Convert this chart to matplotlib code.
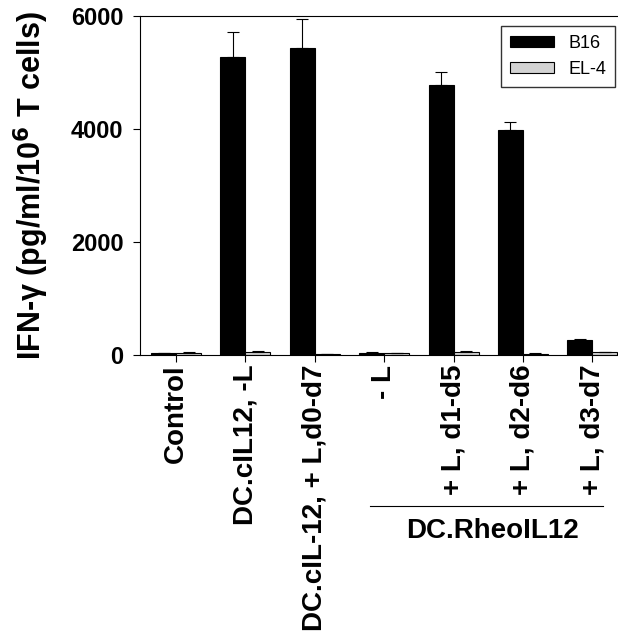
import numpy as np
import matplotlib.pyplot as plt

plt.rcParams['font.family'] = ['Liberation Sans', 'DejaVu Sans']

categories = ["Control", "DC.cIL12, -L", "DC.cIL-12, + L,d0-d7",
              "- L", "+ L, d1-d5", "+ L, d2-d6", "+ L, d3-d7"]
b16 = [30, 5270, 5430, 40, 4770, 3980, 265]
b16_err = [10, 450, 520, 10, 240, 150, 15]
el4 = [40, 60, 20, 30, 50, 25, 45]
el4_err = [8, 10, 5, 6, 15, 5, 10]

fig = plt.figure(figsize=(6.18, 6.35), dpi=100)
ax = fig.add_axes([0.2265, 0.441, 0.7735, 0.534])

x = np.arange(len(categories))
w = 0.36
ax.bar(x - w / 2, b16, w, color='black', edgecolor='black', linewidth=0.8,
       yerr=[np.zeros(len(b16)), b16_err], error_kw=dict(ecolor='black', elinewidth=0.8, capsize=4, capthick=0.8),
       label='B16')
ax.bar(x + w / 2, el4, w, color='#d3d3d3', edgecolor='black', linewidth=0.8,
       yerr=[np.zeros(len(el4)), el4_err], error_kw=dict(ecolor='black', elinewidth=0.8, capsize=4, capthick=0.8),
       label='EL-4')

ax.set_xlim(-0.52, 6.37)
ax.set_ylim(0, 6000)
ax.set_yticks([0, 2000, 4000, 6000])
ax.set_xticks(x)
ax.set_xticklabels(categories, rotation=90, fontweight='bold', fontsize=20)
for lbl in ax.get_yticklabels():
    lbl.set_fontweight('bold')
    lbl.set_fontsize(17)
ax.tick_params(axis='both', direction='out', length=5, width=0.8)
ax.tick_params(axis='x', pad=2)
ax.tick_params(axis='y', pad=7)
ax.spines['right'].set_visible(False)
for s in ['top', 'left', 'bottom']:
    ax.spines[s].set_linewidth(0.8)

ax.set_ylabel('IFN-\u03b3 (pg/ml/10$\\mathbf{^6}$ T cells)', fontsize=22, fontweight='bold', labelpad=14)

ax.legend(loc='upper right', bbox_to_anchor=(0.994, 0.97), borderaxespad=0, fontsize=13, frameon=True,
          fancybox=False, edgecolor='black', handlelength=2.4, handleheight=0.6, borderpad=0.5)

# group bracket for the RheoIL12 conditions
fig.add_artist(plt.Line2D([370 / 618, 603 / 618], [1 - 506 / 635, 1 - 506 / 635], color='black', linewidth=0.8))
fig.text(492 / 618, 1 - 531 / 635, 'DC.RheoIL12', ha='center', va='center', fontsize=20, fontweight='bold')

fig.savefig('out.png', dpi=100)
